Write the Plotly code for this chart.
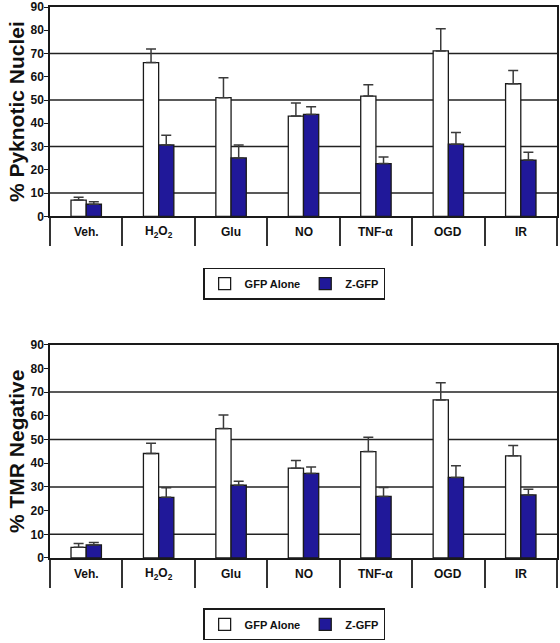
import plotly.graph_objects as go

categories = ["Veh.", "H<sub>2</sub>O<sub>2</sub>", "Glu", "NO", "TNF-α", "OGD", "IR"]

# Top panel: % Pyknotic Nuclei
pyk_gfp = [7.0, 66.1, 51.0, 43.1, 51.7, 71.1, 57.0]
pyk_gfp_err = [1.2, 5.8, 8.6, 5.6, 4.9, 9.6, 5.7]
pyk_z = [5.2, 30.7, 25.1, 43.8, 22.7, 31.0, 24.2]
pyk_z_err = [1.1, 4.2, 5.6, 3.3, 2.8, 5.0, 3.3]

# Bottom panel: % TMR Negative
tmr_gfp = [4.5, 44.1, 54.6, 37.9, 44.9, 66.7, 43.1]
tmr_gfp_err = [1.6, 4.3, 5.7, 3.2, 6.1, 7.2, 4.4]
tmr_z = [5.5, 25.6, 30.7, 35.7, 26.0, 34.0, 26.6]
tmr_z_err = [1.0, 4.0, 1.7, 2.7, 3.7, 4.9, 2.4]

y_ticks = [0, 10, 20, 30, 40, 50, 60, 70, 80, 90]
grid_vals = [10, 30, 50, 70]

FONT = "Liberation Sans, Arial, sans-serif"
BLUE = "#201899"
LINE = "#1a1a1a"

def bars(vals, errs, name, color, xa, ya, legend):
    return go.Bar(
        x=categories, y=vals, name=name, xaxis=xa, yaxis=ya, legend=legend,
        marker=dict(color=color, line=dict(color=LINE, width=1.3)),
        error_y=dict(type="data", array=errs, arrayminus=[0] * len(errs),
                     symmetric=False, color="#3a3a3a", thickness=1.5, width=5),
    )

fig = go.Figure()
fig.add_trace(bars(pyk_gfp, pyk_gfp_err, "GFP Alone", "white", "x", "y", "legend"))
fig.add_trace(bars(pyk_z, pyk_z_err, "Z-GFP", BLUE, "x", "y", "legend"))
fig.add_trace(bars(tmr_gfp, tmr_gfp_err, "GFP Alone", "white", "x2", "y2", "legend2"))
fig.add_trace(bars(tmr_z, tmr_z_err, "Z-GFP", BLUE, "x2", "y2", "legend2"))

top_dom = [0.6201, 1.0]
bot_dom = [0.0, 0.3871]

def xaxis(anchor):
    return dict(domain=[0, 1], anchor=anchor, type="category",
                showline=True, linecolor=LINE, linewidth=1.5, mirror=True,
                ticks="outside", tickson="boundaries", ticklen=28, tickwidth=1.5,
                tickcolor="#333", showticklabels=False, showgrid=False,
                range=[-0.5, len(categories) - 0.5])

def yaxis(dom, anchor, title):
    return dict(domain=dom, anchor=anchor, range=[0, 90], tickvals=y_ticks,
                showline=True, linecolor=LINE, linewidth=1.5, mirror=True,
                ticks="outside", ticklen=4, tickcolor=LINE, showgrid=False, zeroline=False,
                ticklabelstandoff=-2,
                tickfont=dict(family=FONT, size=12, color="#111", weight="bold"),
                title=dict(text=title, standoff=0,
                           font=dict(family=FONT, size=21, color="#111", weight="bold")),
                automargin=False)

shapes = []
for xa, ya in [("x", "y"), ("x2", "y2")]:
    for g in grid_vals:
        shapes.append(dict(type="line", xref=f"{xa} domain", yref=ya, x0=0, x1=1,
                           y0=g, y1=g, layer="below",
                           line=dict(color="#222", width=1.5)))

annotations = []
for xa, ya in [("x", "y"), ("x2", "y2")]:
    for c in categories:
        annotations.append(dict(x=c, y=0, xref=xa, yref=ya, yshift=-16, showarrow=False,
                                text=c, yanchor="middle",
                                font=dict(family=FONT, size=12, color="#111", weight="bold")))

legend_style = dict(orientation="h", xanchor="center", x=0.4815, yanchor="top",
                    bgcolor="white", bordercolor=LINE, borderwidth=1.5,
                    font=dict(family=FONT, size=11, color="#111", weight="bold"),
                    itemwidth=30, tracegroupgap=0)

fig.update_layout(
    width=560, height=643,
    margin=dict(l=50, r=3, t=7, b=78),
    paper_bgcolor="white", plot_bgcolor="white",
    barmode="group", bargap=0.58, bargroupgap=0.0,
    showlegend=True,
    xaxis=xaxis("y"),
    yaxis=yaxis(top_dom, "x", "% Pyknotic Nuclei"),
    xaxis2=xaxis("y2"),
    yaxis2=yaxis(bot_dom, "x2", "% TMR Negative"),
    legend=dict(**legend_style, y=0.5269),
    legend2=dict(**legend_style, y=-0.0914),
    shapes=shapes,
    annotations=annotations,
)

# remove the page's default 8px body margin so the figure sits at the window origin
fig.write_html("out.html", config={"displayModeBar": False},
               post_script="document.body.style.margin='0';")
